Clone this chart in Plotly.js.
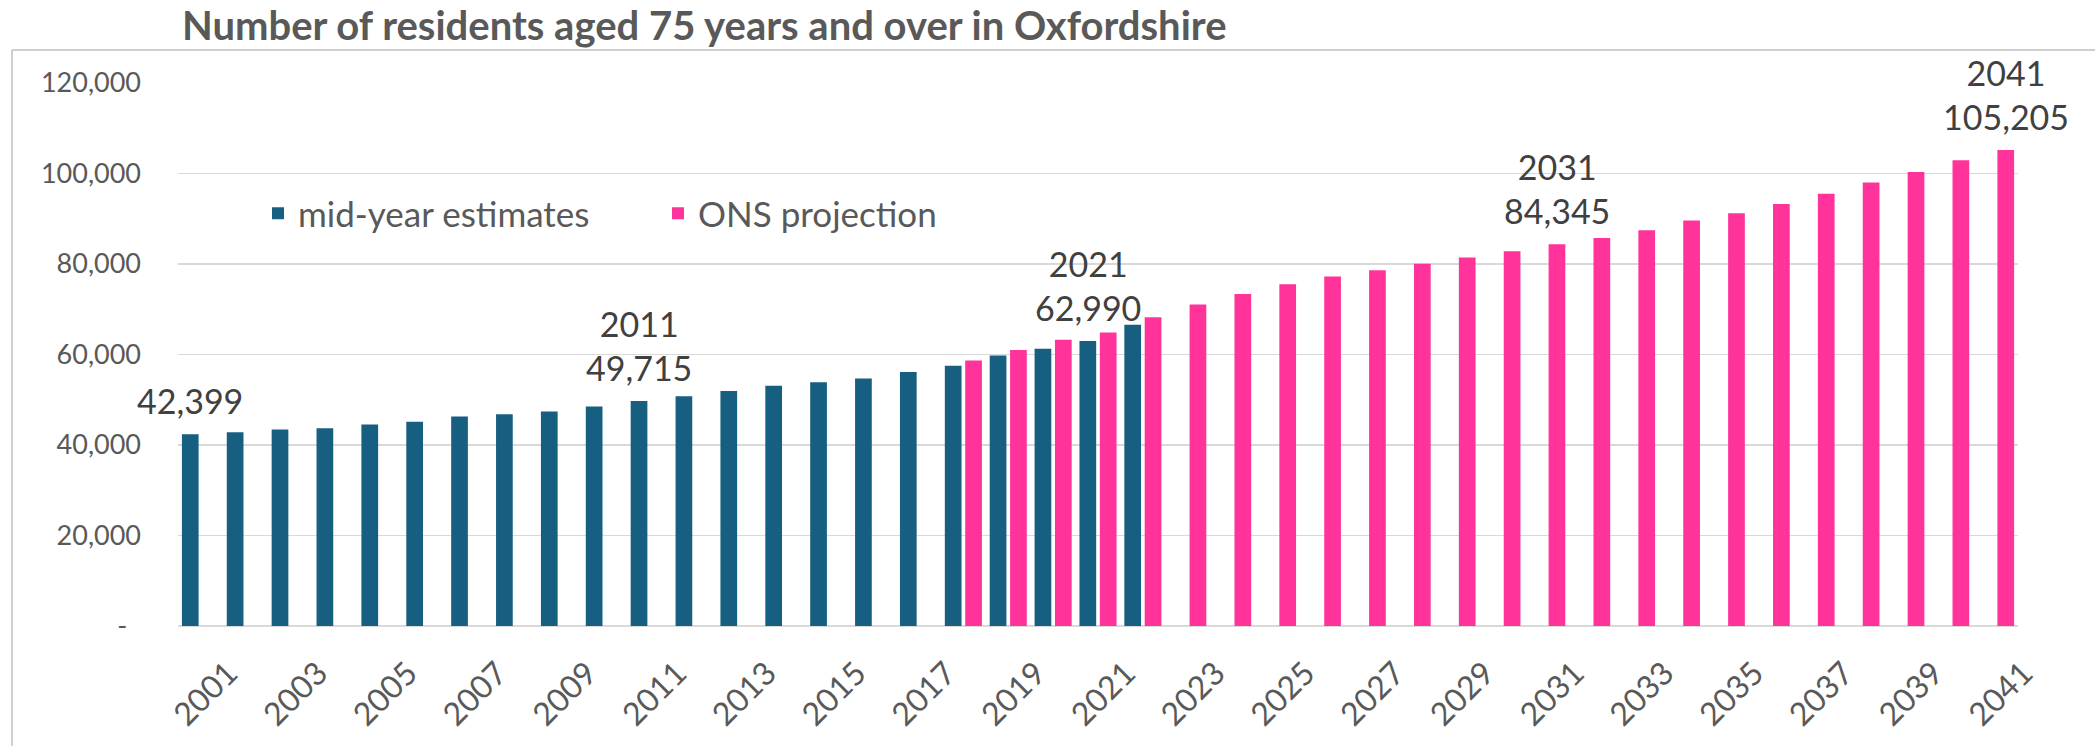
<!DOCTYPE html>
<html>
<head>
<meta charset="utf-8">
<script src="https://cdn.plot.ly/plotly-3.0.1.min.js"></script>
<style>html,body{margin:0;padding:0;background:#fff;}#chart{width:2095px;height:746px;}</style>
</head>
<body>
<div id="chart"></div>
<script>
// ---- data ----
const years = [];
for (let y = 2001; y <= 2041; y++) years.push(String(y));

const estimateYears = ["2001","2002","2003","2004","2005","2006","2007","2008","2009","2010","2011","2012","2013","2014","2015","2016","2017","2018","2019","2020","2021","2022"];
const estimateValues = [42399, 42840, 43420, 43720, 44530, 45120, 46290, 46810, 47400, 48500, 49715, 50780, 51960, 53070, 53880, 54710, 56110, 57510, 59800, 61270, 62990, 66580];

const projectionYears = ["2018","2019","2020","2021","2022","2023","2024","2025","2026","2027","2028","2029","2030","2031","2032","2033","2034","2035","2036","2037","2038","2039","2040","2041"];
const projectionValues = [58690, 60980, 63260, 64880, 68250, 71060, 73350, 75530, 77230, 78630, 80030, 81430, 82830, 84345, 85750, 87480, 89590, 91230, 93280, 95500, 98030, 100330, 102950, 105205];

// labels: value only for these years
const estimateValueOnlyYears = ["2001"];
// labels: year + value for these years
const estimateLabelYears = ["2011", "2021"];
const projectionLabelYears = ["2031", "2041"];

const yTickVals = [0, 20000, 40000, 60000, 80000, 100000, 120000];
const yTickText = ["-\u00a0\u00a0", "20,000", "40,000", "60,000", "80,000", "100,000", "120,000"];
const xTickVals = years.filter((y, i) => i % 2 === 0);

// ---- helpers ----
function fmt(v) { return v.toLocaleString('en-US'); }

const FONT = 'Lato, "Open Sans", sans-serif';
const labelFont = {family: FONT, size: 34, color: '#404040'};
const BARGAP = 0.092, BARGROUPGAP = 0.18;
const groupOffset = (1 - BARGAP) / 4; // centre of each bar within its category, in category units

function makeLabels(xs, vs, withYear, valueOnly, sign) {
  const out = [];
  xs.forEach((x, i) => {
    let t = null;
    if (withYear.includes(x)) t = x + '<br>' + fmt(vs[i]);
    else if (valueOnly.includes(x)) t = fmt(vs[i]);
    if (t !== null) {
      out.push({
        x: years.indexOf(x) + sign * groupOffset, y: vs[i],
        xref: 'x', yref: 'y', text: t, showarrow: false,
        xanchor: 'center', yanchor: 'bottom', yshift: 11,
        font: labelFont
      });
    }
  });
  return out;
}

const traces = [
  {
    type: 'bar', name: 'mid-year estimates',
    x: estimateYears, y: estimateValues,
    marker: {color: '#175f80'}, hoverinfo: 'x+y'
  },
  {
    type: 'bar', name: 'ONS projection',
    x: projectionYears, y: projectionValues,
    marker: {color: '#ff3399'}, hoverinfo: 'x+y'
  }
];

const M = {l: 178, r: 77, t: 83, b: 120};
const W = 2095, H = 746;
const pw = W - M.l - M.r, ph = H - M.t - M.b;
const px2x = px => (px - M.l) / pw;
const py2y = py => (H - M.b - py) / ph;

const layout = {
  width: W, height: H,
  margin: M,
  paper_bgcolor: '#ffffff', plot_bgcolor: '#ffffff',
  font: {family: FONT, color: '#595959'},
  title: {
    text: '<b>Number of residents aged 75 years and over in Oxfordshire</b>',
    font: {family: FONT, size: 40, color: '#595959'},
    xref: 'container', yref: 'container',
    x: 182 / W, xanchor: 'left',
    y: 1 - 26 / H, yanchor: 'middle'
  },
  barmode: 'group', bargap: BARGAP, bargroupgap: BARGROUPGAP,
  xaxis: {
    type: 'category', categoryorder: 'array', categoryarray: years,
    range: [-0.5, years.length - 0.5],
    tickvals: xTickVals, ticktext: xTickVals,
    tickangle: -45, tickfont: {family: FONT, size: 32, color: '#595959'},
    showgrid: false, showline: false, zeroline: false, ticks: '',
    ticklabelstandoff: 21, ticklabelshift: 28
  },
  yaxis: {
    range: [0, 120000],
    tickvals: yTickVals, ticktext: yTickText,
    tickfont: {family: FONT, size: 27, color: '#595959'},
    showgrid: true, gridcolor: '#d9d9d9', gridwidth: 1.5,
    zeroline: true, zerolinecolor: '#d9d9d9', zerolinewidth: 2.5,
    showline: false, ticks: '', ticklabelstandoff: 36
  },
  legend: {
    orientation: 'h', x: px2x(258), xanchor: 'left', y: py2y(184), yanchor: 'top',
    bgcolor: 'rgba(0,0,0,0)', font: {family: FONT, size: 35, color: '#595959'},
    entrywidth: 355, entrywidthmode: 'pixels'
  },
  annotations: [
    ...makeLabels(estimateYears, estimateValues, estimateLabelYears, estimateValueOnlyYears, -1),
    ...makeLabels(projectionYears, projectionValues, projectionLabelYears, [], 1)
  ],
  shapes: [
    {type: 'line', xref: 'paper', yref: 'paper', x0: px2x(12), x1: px2x(2100), y0: py2y(50), y1: py2y(50), line: {color: '#bfbfbf', width: 1.5}},
    {type: 'line', xref: 'paper', yref: 'paper', x0: px2x(12), x1: px2x(12), y0: py2y(50), y1: py2y(760), line: {color: '#bfbfbf', width: 1.5}}
  ],
  showlegend: true
};

Plotly.newPlot('chart', traces, layout, {displayModeBar: false, staticPlot: true});
</script>
</body>
</html>
